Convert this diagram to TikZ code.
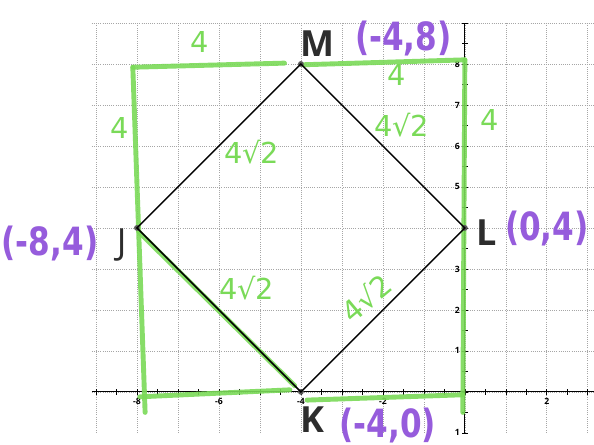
\documentclass[tikz,border=0pt]{standalone}
\usepackage{fontspec}
\setmainfont{Open Sans}
\newfontfamily\hand{DejaVu Sans}
\definecolor{hgreen}{RGB}{122,218,88}
\definecolor{hpurple}{RGB}{150,92,220}
\definecolor{lbl}{RGB}{45,45,45}
\newcommand{\narrow}[1]{\scalebox{0.8}[1]{#1}}
\tikzset{
  gridline/.style={gray!70, densely dotted, line width=0.5pt},
  axisline/.style={black, line width=0.7pt},
  sq/.style={black, line width=1pt},
  hl/.style={hgreen, line width=3.4pt, line cap=round, line join=round, opacity=0.9},
  vdot/.style={circle, fill=gray!70!black, inner sep=0pt, minimum size=4pt},
  vname/.style={text=lbl, font=\bfseries\fontsize{25}{25}\selectfont, inner sep=0pt},
  coordlbl/.style={text=hpurple, font=\hand\bfseries\fontsize{27}{27}\selectfont, inner sep=0pt},
  glbl/.style={text=hgreen, font=\hand\fontsize{20}{20}\selectfont, inner sep=0pt},
  ticklbl/.style={font=\fontsize{6}{6}\selectfont\bfseries, inner sep=0.5pt}
}
\begin{document}
\begin{tikzpicture}
\useasboundingbox (-11.34,-1.29) rectangle (3.15,9.56);
\fill[white] (-11.34,-1.29) rectangle (3.15,9.56);
% grid
\draw[gridline] (-9.1,-0.99) grid (3.3,9);
\draw[gridline] (-9.1,9) -- (3.3,9);
% axes
\draw[axisline] (-9.1,0) -- (3.3,0);
\draw[axisline] (0,-1) -- (0,9);
\foreach \t in {-9,-8.5,...,3} \draw[axisline, line width=0.5pt] (\t,-0.07) -- (\t,0.07);
\foreach \t in {-1,-0.5,...,9} \draw[axisline, line width=0.5pt] (-0.07,\t) -- (0.07,\t);
\foreach \t in {-8,-6,-4,-2,2} \node[ticklbl, below] (tx\t) at (\t,-0.12) {\t};
\foreach \t in {1,2,3,5,6,7,8} \node[ticklbl, left] (ty\t) at (-0.1,\t) {\t};
\node[ticklbl, left] (tym1) at (-0.1,-1) {1};
% green highlight lines
\coordinate (g1) at (-8.1,7.92);
\coordinate (g2) at (-4.4,8.02);
\coordinate (g3) at (-3.95,7.98);
\coordinate (g4) at (0,8.1);
\coordinate (g5) at (-7.8,-0.5);
\coordinate (g6) at (-0.05,-0.5);
\coordinate (g7) at (-7.93,-0.12);
\coordinate (g8) at (-4.27,0.05);
\coordinate (g9) at (-3.85,-0.2);
\coordinate (g10) at (-0.05,-0.07);
\coordinate (g11) at (-7.95,3.9);
\coordinate (g12) at (-4.15,0.15);
\draw[hl] (g1) -- (g2);
\draw[hl] (g3) -- (g4);
\draw[hl] (g1) -- (g5);
\draw[hl] (g4) -- (g6);
\draw[hl] (g7) -- (g8);
\draw[hl] (g9) -- (g10);
\draw[hl] (g11) -- (g12);
% square
\node[vdot] (M) at (-4,8) {};
\node[vdot] (L) at (0,4) {};
\node[vdot] (K) at (-4,0) {};
\node[vdot] (J) at (-8,4) {};
\draw[sq] (M.center) -- (L.center) -- (K.center) -- (J.center) -- cycle;
% vertex names
\node[vname] (nM) at (-3.59,8.49) {M};
\node[vname] (nL) at (0.54,3.88) {L};
\node[vname] (nK) at (-3.71,-0.68) {K};
\node[vname, font=\fontsize{25}{25}\selectfont] (nJ) at (-8.37,3.59) {J};
% purple coordinates
\node[coordlbl] (cM) at (-1.5,8.62) {\narrow{(-4,8)}};
\node[coordlbl] (cJ) at (-10.12,3.62) {\narrow{(-8,4)}};
\node[coordlbl] (cL) at (2.0,3.98) {\narrow{(0,4)}};
\node[coordlbl] (cK) at (-1.88,-0.82) {\narrow{(-4,0)}};
% green labels
\node[glbl] (s1) at (-6.46,8.54) {4};
\node[glbl] (s2) at (-8.41,6.44) {4};
\node[glbl] (s3) at (-1.66,7.73) {4};
\node[glbl] (s4) at (0.61,6.63) {4};
\node[glbl] (d1) at (-5.2,5.85) {4√2};
\node[glbl] (d2) at (-1.54,6.51) {4√2};
\node[glbl] (d3) at (-5.32,2.54) {4√2};
\node[glbl, rotate=40] (d4) at (-2.4,2.3) {4√2};
\end{tikzpicture}
\end{document}
